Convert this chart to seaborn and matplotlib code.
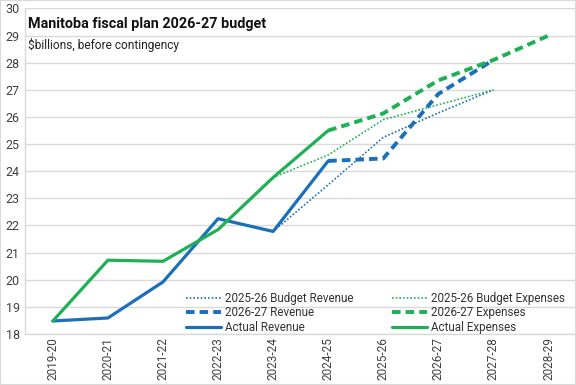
import numpy as np
import pandas as pd
import matplotlib
matplotlib.use("Agg")
import matplotlib.pyplot as plt
import seaborn as sns
from matplotlib.patches import Rectangle

years = ["2019-20", "2020-21", "2021-22", "2022-23", "2023-24",
         "2024-25", "2025-26", "2026-27", "2027-28", "2028-29"]
nan = np.nan
budget_revenue = [nan, nan, nan, nan, 21.78, 23.5, 25.25, 26.15, 27.0, nan]
plan_revenue = [nan, nan, nan, nan, nan, 24.38, 24.47, 26.85, 28.1, nan]
actual_revenue = [18.48, 18.59, 19.92, 22.25, 21.78, 24.38, nan, nan, nan, nan]
budget_expenses = [nan, nan, nan, nan, 23.77, 24.6, 25.9, 26.45, 27.0, nan]
plan_expenses = [nan, nan, nan, nan, nan, 25.5, 26.13, 27.35, 28.1, 29.0]
actual_expenses = [18.48, 20.72, 20.68, 21.85, 23.77, 25.5, nan, nan, nan, nan]
yticks = list(range(18, 31))

BLUE = "#1a6fba"
GREEN = "#1fb055"

sns.set_theme(style="white")
plt.rcParams["font.family"] = ["Roboto", "DejaVu Sans"]

fig = plt.figure(figsize=(5.76, 3.85), dpi=100)
ax = fig.add_axes([0.044, 0.1325, 0.956, 0.8455])

xpos = np.arange(len(years))
series = [
    ("2025-26 Budget Revenue", budget_revenue, BLUE, (0, (1, 1.2)), 1.2),
    ("2026-27 Revenue", plan_revenue, BLUE, (0, (2.2, 1.3)), 2.8),
    ("Actual Revenue", actual_revenue, BLUE, "-", 2.3),
    ("2025-26 Budget Expenses", budget_expenses, GREEN, (0, (1, 1.2)), 1.2),
    ("2026-27 Expenses", plan_expenses, GREEN, (0, (2.2, 1.3)), 2.8),
    ("Actual Expenses", actual_expenses, GREEN, "-", 2.3),
]
handles = []
for name, vals, color, ls, lw in series:
    df = pd.DataFrame({"x": xpos, "y": vals}).dropna()
    sns.lineplot(data=df, x="x", y="y", ax=ax, color=color, linewidth=lw,
                 linestyle=ls, label=name, legend=False)
    handles.append(ax.lines[-1])

ax.set_xlim(-0.5, len(years) - 0.5)
ax.set_ylim(18, 30)
ax.set_yticks(yticks)
ax.set_yticklabels([str(t) for t in yticks])
ax.set_xticks(xpos)
ax.set_xticklabels(years, rotation=90)
ax.set_xlabel("")
ax.set_ylabel("")
ax.tick_params(axis="y", labelsize=9, colors="#404040", length=0, pad=4)
ax.tick_params(axis="x", labelsize=8.5, colors="#404040", length=0, pad=2)
ax.grid(axis="y", color="#d9d9d9", linewidth=1)
ax.set_axisbelow(True)
for s in ["top", "right"]:
    ax.spines[s].set_visible(False)
ax.spines["left"].set_color("#d9d9d9")
ax.spines["bottom"].set_color("#d9d9d9")
ax.spines["left"].set_linewidth(1)
ax.spines["bottom"].set_linewidth(1)

ax.text(0.005, 0.975, "Manitoba fiscal plan 2026-27 budget", transform=ax.transAxes,
        fontsize=10.4, fontweight="bold", color="#111111", va="top", ha="left")
ax.text(0.005, 0.908, "$billions, before contingency", transform=ax.transAxes,
        fontsize=8.6, color="#222222", va="top", ha="left")

leg = ax.legend(handles=handles, labels=[s[0] for s in series], ncol=2,
                loc="lower left", bbox_to_anchor=(0.283, -0.015), frameon=False,
                fontsize=8.4, handlelength=3.0, handletextpad=0.35,
                columnspacing=3.3, labelspacing=0.15, borderaxespad=0)
for t in leg.get_texts():
    t.set_color("#333333")

fig.patches.append(Rectangle((0, 0), 1, 1, transform=fig.transFigure, fill=False,
                             edgecolor="#d9d9d9", linewidth=1.5))
fig.savefig("out.png", dpi=100)
